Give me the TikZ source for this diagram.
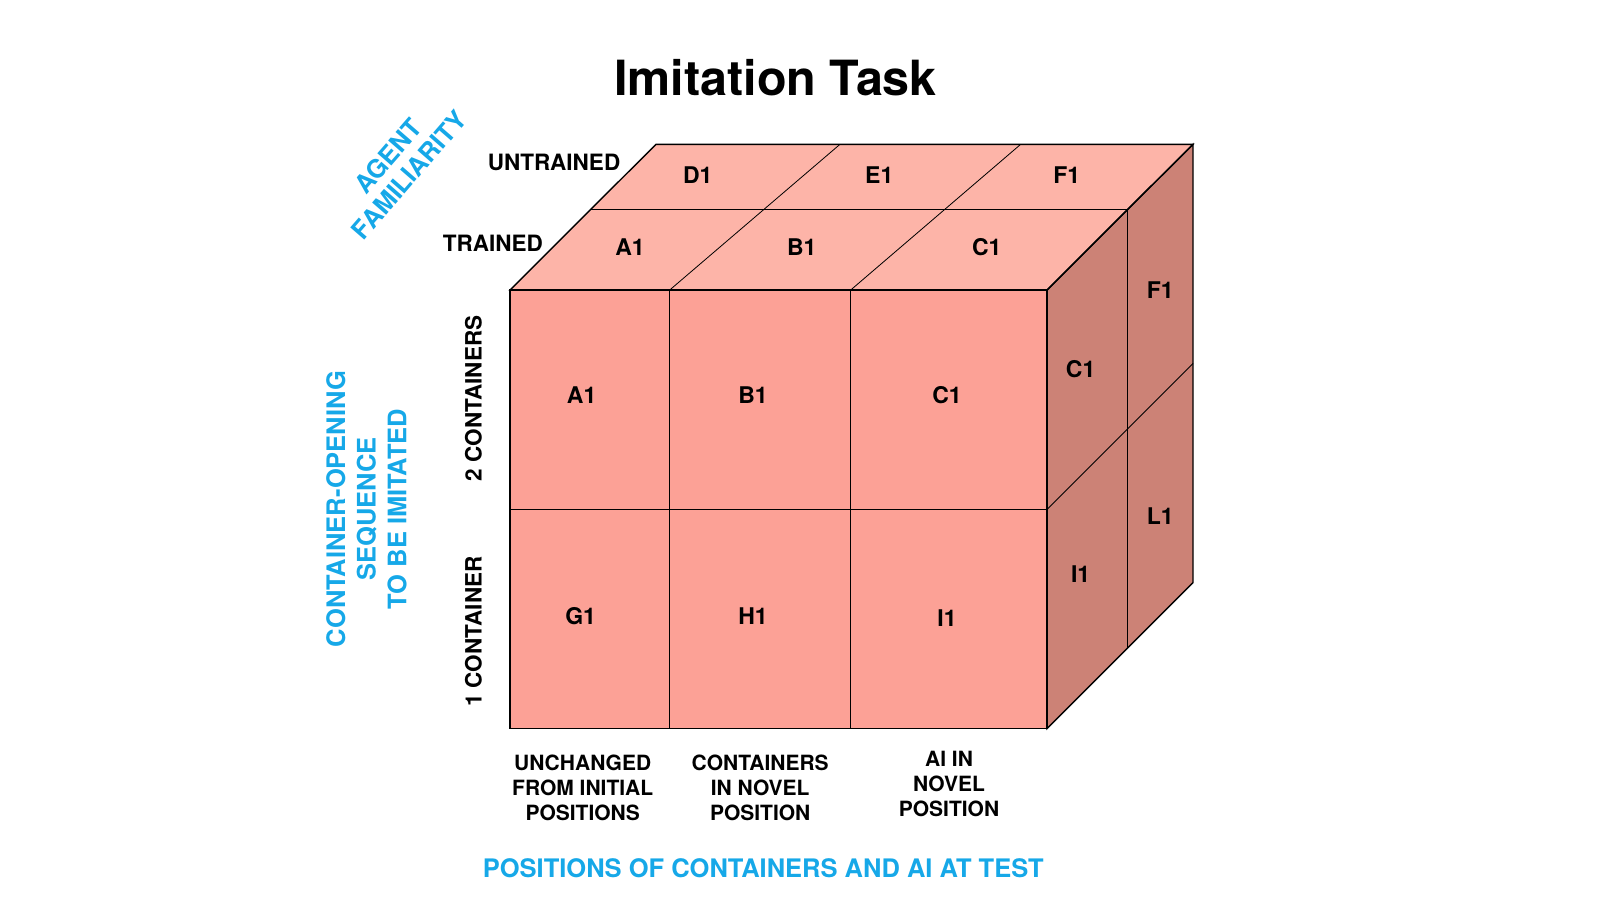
\documentclass[tikz,border=0pt]{standalone}
\usepackage{fontspec}
\setmainfont{TeX Gyre Heros}
\usetikzlibrary{positioning}
\definecolor{frontred}{RGB}{252,161,150}
\definecolor{topred}{RGB}{253,180,168}
\definecolor{sidered}{RGB}{204,130,118}
\definecolor{axisblue}{RGB}{22,168,232}
\tikzset{
  cubeface/.style={draw,line width=1.4pt,line join=miter},
  divider/.style={draw,line width=0.8pt},
  cell/.style={font=\fontsize{23}{27}\selectfont\bfseries,inner sep=0pt},
  levellabel/.style={font=\fontsize{22.5}{26}\selectfont\bfseries,inner sep=0pt},
  condlabel/.style={font=\fontsize{21}{25}\selectfont\bfseries,align=center,inner sep=0pt},
  axislabel/.style={font=\fontsize{25.5}{30.6}\selectfont\bfseries,text=axisblue,align=center,inner sep=0pt}
}

\begin{document}
\begin{tikzpicture}[x=1pt,y=-1pt]
\useasboundingbox (0,0) rectangle (1600,898);
% cube corners
\coordinate (f1) at (510,290);
\coordinate (f2) at (1047,290);
\coordinate (f3) at (1047,728.6);
\coordinate (f4) at (510,728.6);
\coordinate (b1) at (656,144.3);
\coordinate (b2) at (1193,144.3);
\coordinate (b3) at (1193,582.6);
% faces
\fill[topred] (f1) -- (b1) -- (b2) -- (f2) -- cycle;
\fill[frontred] (f1) rectangle (f3);
\fill[sidered] (f2) -- (b2) -- (b3) -- (f3) -- cycle;
% cell lines
\path[divider] (590.7,209.3) -- (1127.7,209.3);
\path[divider] (669.7,290) -- (840,144.3);
\path[divider] (850.7,290) -- (1020.7,144.3);
\path[divider] (669.7,290) -- (669.7,728.6);
\path[divider] (850.7,290) -- (850.7,728.6);
\path[divider] (510,509.5) -- (1047,509.5);
\path[divider] (1127.7,209.3) -- (1127.7,647.6);
\path[divider] (1047,509.5) -- (1193,363.5);
% outlines
\path[cubeface] (f1) -- (b1) -- (b2) -- (f2) -- cycle;
\path[cubeface] (f1) rectangle (f3);
\path[cubeface] (f2) -- (b2) -- (b3) -- (f3) -- cycle;

\node[font=\fontsize{48.5}{58}\selectfont\bfseries, anchor=base] (title) at (775.5,95) {Imitation Task};

% top face
\node[cell] (topD) at (697.7,175) {D1};
\node[cell] (topE) at (879.3,175) {E1};
\node[cell] (topF) at (1066.7,175) {F1};
\node[cell] (topA) at (630,247.3) {A1};
\node[cell] (topB) at (801.7,247.3) {B1};
\node[cell] (topC) at (986.7,247.3) {C1};
% front face
\node[cell] (frontA) at (581.6,394.9) {A1};
\node[cell] (frontB) at (753,394.9) {B1};
\node[cell] (frontC) at (947,394.9) {C1};
\node[cell] (frontG) at (580.6,616.3) {G1};
\node[cell] (frontH) at (753,616.3) {H1};
\node[cell] (frontI) at (947,618.4) {I1};
% side face
\node[cell] (sideC) at (1080.6,369.4) {C1};
\node[cell] (sideF) at (1160.2,289.8) {F1};
\node[cell] (sideI) at (1080.6,574.5) {I1};
\node[cell] (sideL) at (1160.2,516.3) {L1};

% levels
\node[levellabel, anchor=base] (untrained) at (554,170) {UNTRAINED};
\node[levellabel, anchor=base] (trained) at (492.8,251.7) {TRAINED};
\node[levellabel, rotate=90, anchor=base] (twocont) at (481.7,398.3) {2 CONTAINERS};
\node[levellabel, rotate=90, anchor=base] (onecont) at (481.7,631.7) {1 CONTAINER};
\node[condlabel] (unchanged) at (582.7,787.8) {UNCHANGED\\FROM INITIAL\\POSITIONS};
\node[condlabel] (novelcont) at (760.2,787.8) {CONTAINERS\\IN NOVEL\\POSITION};
\node[condlabel] (novelai) at (949,783.7) {AI IN\\NOVEL\\POSITION};

% axes
\node[axislabel, font=\fontsize{25.5}{28.2}\selectfont\bfseries, rotate=49] (familiarity) at (398.7,165.4) {AGENT\\FAMILIARITY};
\node[axislabel, rotate=90] (sequence) at (366.4,509) {CONTAINER-OPENING\\SEQUENCE\\TO BE IMITATED};
\node[axislabel] (positions) at (763.3,868.4) {POSITIONS OF CONTAINERS AND AI AT TEST};
\end{tikzpicture}
\end{document}
